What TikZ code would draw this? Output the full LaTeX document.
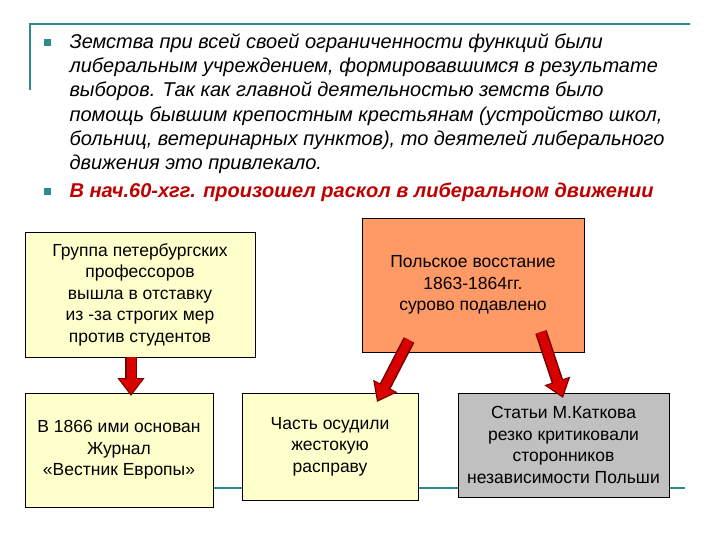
\documentclass[tikz,border=0pt]{standalone}
\usepackage{fontspec}
\setmainfont{Liberation Sans}
\usetikzlibrary{arrows.meta}
\definecolor{teal1}{HTML}{2E8B8B}
\definecolor{ylw}{HTML}{FFFFCC}
\definecolor{orng}{HTML}{FF9966}
\definecolor{gry}{HTML}{C0C0C0}
\definecolor{dred}{HTML}{A00000}
\begin{document}
\begin{tikzpicture}[x=1pt,y=-1pt,
  box/.style={draw=black,line width=0.8pt,align=center,font=\fontsize{17.5}{21.5}\selectfont,inner sep=0pt},
  ln/.style={anchor=west,font=\fontsize{20}{22}\selectfont\itshape},
  bul/.style={fill=teal1,minimum size=7pt,inner sep=0pt}]
\useasboundingbox (0,0) rectangle (720,540);
\fill[white] (0,0) rectangle (720,540);
\coordinate (t1) at (30,90); \coordinate (t2) at (30,24); \coordinate (t3) at (690,24);
\draw[teal1,line width=1.5pt] (t1) -- (t2) -- (t3);
\node[bul] (b1) at (47,43) {};
\node[bul] (b2) at (47,192) {};
\node[ln] (l1) at (66,43) {Земства при всей своей ограниченности функций были};
\node[ln] (l2) at (66,67) {либеральным учреждением, формировавшимся в результате};
\node[ln] (l3) at (66,91) {выборов. Так как главной деятельностью земств было};
\node[ln] (l4) at (66,116) {помощь бывшим крепостным крестьянам (устройство школ,};
\node[ln] (l5) at (66,140) {больниц, ветеринарных пунктов), то деятелей либерального};
\node[ln] (l6) at (66,164) {движения это привлекало.};
\node[ln,font=\fontsize{20}{22}\selectfont\itshape\bfseries,text=red!75!black] (l7) at (66,192) {В нач.60-хгг. произошел раскол в либеральном движении};
\coordinate (h1) at (213,488); \coordinate (h2) at (685,488);
\draw[teal1,line width=1.5pt] (h1) -- (h2);
\node[box,fill=ylw,minimum width=230pt,minimum height=125pt] (g) at (140,294.5) {Группа петербургских\\профессоров\\вышла в отставку\\из -за строгих мер\\против студентов};
\node[box,fill=orng,minimum width=222pt,minimum height=134pt] (p) at (473,285) {Польское восстание\\1863-1864гг.\\сурово подавлено};
\node[box,fill=ylw,minimum width=188pt,minimum height=114pt] (v) at (119,450) {В 1866 ими основан\\Журнал\\«Вестник Европы»};
\node[box,fill=ylw,minimum width=176pt,minimum height=107pt] (c) at (330,446.5) {Часть осудили\\жестокую\\расправу};
\node[box,fill=gry,minimum width=211pt,minimum height=104pt] (k) at (563.5,445) {Статьи М.Каткова\\резко критиковали\\сторонников\\независимости Польши};
\coordinate (a1s) at (131,357); \coordinate (a1e) at (131,396);
\coordinate (a2s) at (409,340); \coordinate (a2e) at (377,402);
\coordinate (a3s) at (541,332); \coordinate (a3e) at (563,398);
\foreach \s/\e in {a1s/a1e,a2s/a2e,a3s/a3e}{
  \draw[line width=12pt,dred!70!black,-{Triangle[length=18pt,width=26pt]}] (\s) -- (\e);
  \draw[line width=9pt,red!85!black,shorten >=2pt,-{Triangle[length=15pt,width=22pt]}] (\s) -- (\e);
}
\end{tikzpicture}
\end{document}
